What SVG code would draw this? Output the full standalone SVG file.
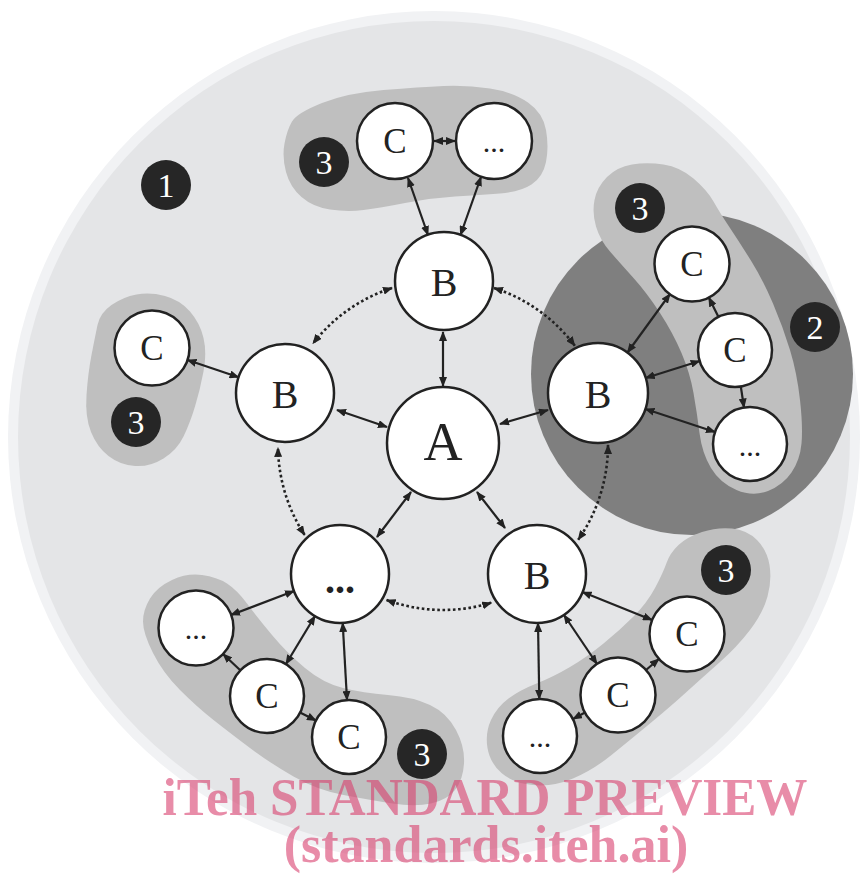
<svg xmlns="http://www.w3.org/2000/svg" width="868" height="879" viewBox="0 0 868 879">
<defs>
<style>
.n{fill:#fff;stroke:#222;stroke-width:2.5}
.t{font-family:"Liberation Serif",serif;fill:#222;text-anchor:middle}
.bd{fill:#262626}
.bt{font-family:"Liberation Serif",serif;fill:#fff;text-anchor:middle;font-size:34px}
.c{stroke:#222;stroke-width:2.2;fill:none;marker-end:url(#ah)}
.c2{marker-start:url(#ah)}
.d{stroke:#222;stroke-width:2.6;fill:none;stroke-dasharray:2.6 2.6;marker-start:url(#ad);marker-end:url(#ad)}
.blob{fill:#bfbfbf}
.wm{font-family:"Liberation Serif","Times New Roman",serif;font-weight:bold;fill:#d9406e;fill-opacity:0.6;text-anchor:middle;font-size:52px}
</style>
<marker id="ah" viewBox="0 0 10 8" refX="9" refY="4" markerWidth="10" markerHeight="8" markerUnits="userSpaceOnUse" orient="auto-start-reverse"><path d="M0,0 L10,4 L0,8 z" fill="#222"/></marker>
<marker id="ad" viewBox="0 0 10 8" refX="9" refY="4" markerWidth="10" markerHeight="8" markerUnits="userSpaceOnUse" orient="auto-start-reverse"><path d="M0,0 L10,4 L0,8 z" fill="#222"/></marker>
</defs>

<g id="background">
<circle cx="434" cy="437" r="426" fill="#f1f2f4"/>
<circle cx="434" cy="437" r="416" fill="#e4e5e7"/>
<circle id="zone2" cx="692" cy="374" r="161" fill="#7f7f7f"/>
</g>

<g id="groups3">
<path class="blob" d="M322,103 Q347,93 383.5,90 Q420,87 443.5,86 Q467,85 490,88.5 Q513,92 528,102.5 Q543,113 546,130 Q549,147 546,162 Q543,177 531.5,184.5 Q520,192 500,193.5 Q480,195 455,196.5 Q430,198 405,203 Q380,208 363.5,210 Q347,212 330,209.5 Q313,207 301.5,197 Q290,187 286,172 Q282,157 284.5,143.5 Q287,130 292,121.5 Q297,113 322,103 Z"/>
<path class="blob" d="M111.5,305 Q123,297 136.5,294.5 Q150,292 165,296 Q180,300 190,311.5 Q200,323 203.5,338 Q207,353 203.5,371.5 Q200,390 195,406.5 Q190,423 183.5,436.5 Q177,450 163.5,458.5 Q150,467 135,466 Q120,465 108.5,456 Q97,447 91,432 Q85,417 86.5,395 Q88,373 91.5,355 Q95,337 97.5,325 Q100,313 111.5,305 Z"/>
<path class="blob" d="M596,226.5 Q600,240 610,251.5 Q620,263 633.5,278 Q647,293 660,313 Q673,333 681.5,353 Q690,373 693.5,393 Q697,413 699.5,433 Q702,453 711,468 Q720,483 736.5,490 Q753,497 768,491 Q783,485 791.5,472.5 Q800,460 801.5,443.5 Q803,427 800,400 Q797,373 790,350 Q783,327 773,303.5 Q763,280 751.5,261.5 Q740,243 730,228 Q720,213 713.5,201.5 Q707,190 693.5,178.5 Q680,167 663.5,164.5 Q647,162 632,164.5 Q617,167 607,177 Q597,187 594.5,200 Q592,213 596,226.5 Z"/>
<path class="blob" d="M150,598.5 Q157,587 172,580 Q187,573 202,575 Q217,577 227,583.5 Q237,590 247,603.5 Q257,617 272,635 Q287,653 305,668 Q323,683 343,688 Q363,693 388,695 Q413,697 430,705 Q447,713 456,730 Q465,747 464,763.5 Q463,780 455,790 Q447,800 431,803.5 Q415,807 392.5,803.5 Q370,800 343.5,795 Q317,790 293.5,776.5 Q270,763 250,748 Q230,733 213.5,720 Q197,707 180,690 Q163,673 153,653 Q143,633 143,621.5 Q143,610 150,598.5 Z"/>
<path class="blob" d="M678.5,545 Q687,537 702,532 Q717,527 732,528.5 Q747,530 757,540 Q767,550 769.5,565 Q772,580 767.5,596.5 Q763,613 750,630 Q737,647 720,662 Q703,677 686.5,692 Q670,707 650,723.5 Q630,740 611.5,755 Q593,770 573,778.5 Q553,787 533,785 Q513,783 501.5,773 Q490,763 487.5,748 Q485,733 491,720 Q497,707 508.5,698.5 Q520,690 536.5,683.5 Q553,677 570,667 Q587,657 603.5,643.5 Q620,630 633.5,616.5 Q647,603 655,588 Q663,573 666.5,563 Q670,553 678.5,545 Z"/>
</g>

<g id="connectors">
<path class="d" d="M392,288 A165,165 0 0 0 313,343.4"/>
<path class="d" d="M494,288 A165,165 0 0 1 574.8,345.7"/>
<path class="d" d="M608,445 A165,165 0 0 1 578.2,539.7"/>
<path class="d" d="M491.2,602.8 A165,165 0 0 1 386.6,600"/>
<path class="d" d="M304.6,534.9 A165,165 0 0 1 278,447.9"/>

<line class="c c2" x1="443" y1="332" x2="443" y2="386"/>
<line class="c c2" x1="337" y1="410" x2="387" y2="427"/>
<line class="c c2" x1="500" y1="424" x2="548" y2="410"/>
<line class="c c2" x1="411" y1="492" x2="377" y2="537"/>
<line class="c c2" x1="477" y1="492" x2="505" y2="528"/>

<line class="c c2" x1="428" y1="235" x2="408" y2="178"/>
<line class="c c2" x1="460.5" y1="235" x2="481" y2="177"/>
<line class="c c2" x1="434" y1="141" x2="455" y2="141"/>

<line class="c c2" x1="238.6" y1="377.3" x2="187.5" y2="360"/>

<line class="c c2" x1="627.5" y1="352.5" x2="670" y2="294"/>
<line class="c c2" x1="645.7" y1="378" x2="699.7" y2="361"/>
<line class="c c2" x1="645.4" y1="409" x2="715" y2="432"/>
<line class="c" x1="718.5" y1="317" x2="708.8" y2="297.5"/>
<line class="c" x1="740.8" y1="386.5" x2="744" y2="407.5"/>

<line class="c c2" x1="294" y1="591" x2="231" y2="615"/>
<line class="c c2" x1="315" y1="616" x2="286" y2="664"/>
<line class="c c2" x1="342.7" y1="623" x2="347" y2="700"/>
<line class="c" x1="240" y1="670" x2="223" y2="654"/>
<line class="c" x1="300" y1="712.5" x2="316" y2="720.5"/>

<line class="c c2" x1="582.5" y1="592" x2="652" y2="620"/>
<line class="c c2" x1="564" y1="615" x2="597" y2="664"/>
<line class="c c2" x1="538" y1="623" x2="539.3" y2="699"/>
<line class="c" x1="646" y1="670" x2="659" y2="659"/>
<line class="c" x1="585" y1="712.5" x2="573" y2="719"/>
</g>

<g id="nodeA"><circle class="n" cx="443" cy="443" r="56"/><text class="t" x="443" y="460" font-size="54">A</text></g>
<g id="nodeB_top"><circle class="n" cx="444" cy="281" r="49"/><text class="t" x="444" y="296" font-size="40">B</text></g>
<g id="nodeB_left"><circle class="n" cx="285" cy="393" r="49"/><text class="t" x="285" y="408" font-size="40">B</text></g>
<g id="nodeB_right"><circle class="n" cx="598" cy="393" r="50"/><text class="t" x="598" y="408" font-size="40">B</text></g>
<g id="nodeB_bottomright"><circle class="n" cx="537" cy="574" r="49"/><text class="t" x="537" y="589" font-size="40">B</text></g>
<g id="nodeB_bottomleft"><circle class="n" cx="340" cy="574" r="49"/><text class="t" x="340" y="593" font-size="40" font-weight="bold">...</text></g>

<g id="nodeC_top1"><circle class="n" cx="395" cy="141" r="38"/><text class="t" x="395" y="153" font-size="35">C</text></g>
<g id="nodeC_top2"><circle class="n" cx="494" cy="141" r="38"/><text class="t" x="494" y="152" font-size="30">...</text></g>
<g id="nodeC_left"><circle class="n" cx="152" cy="348" r="37.5"/><text class="t" x="152" y="360" font-size="35">C</text></g>
<g id="nodeC_right1"><circle class="n" cx="692" cy="264" r="37.5"/><text class="t" x="692" y="276" font-size="35">C</text></g>
<g id="nodeC_right2"><circle class="n" cx="735" cy="350" r="37"/><text class="t" x="735" y="362" font-size="35">C</text></g>
<g id="nodeC_right3"><circle class="n" cx="750" cy="444" r="37"/><text class="t" x="750" y="456" font-size="30">...</text></g>
<g id="nodeC_bl1"><circle class="n" cx="196" cy="628" r="37.5"/><text class="t" x="196" y="639" font-size="30">...</text></g>
<g id="nodeC_bl2"><circle class="n" cx="267" cy="696" r="37"/><text class="t" x="267" y="708" font-size="35">C</text></g>
<g id="nodeC_bl3"><circle class="n" cx="349" cy="737" r="37"/><text class="t" x="349" y="749" font-size="35">C</text></g>
<g id="nodeC_br1"><circle class="n" cx="687" cy="634" r="37.5"/><text class="t" x="687" y="646" font-size="35">C</text></g>
<g id="nodeC_br2"><circle class="n" cx="618" cy="695" r="37.5"/><text class="t" x="618" y="707" font-size="35">C</text></g>
<g id="nodeC_br3"><circle class="n" cx="540" cy="736" r="37"/><text class="t" x="540" y="747" font-size="30">...</text></g>

<g id="badge1"><circle class="bd" cx="166" cy="185" r="25"/><text class="bt" x="166" y="197">1</text></g>
<g id="badge2"><circle class="bd" cx="815" cy="327" r="25"/><text class="bt" x="815" y="339">2</text></g>
<g id="badge3_top"><circle class="bd" cx="324" cy="162" r="25"/><text class="bt" x="324" y="174">3</text></g>
<g id="badge3_left"><circle class="bd" cx="136" cy="422" r="25"/><text class="bt" x="136" y="434">3</text></g>
<g id="badge3_right"><circle class="bd" cx="640" cy="208" r="25"/><text class="bt" x="640" y="220">3</text></g>
<g id="badge3_bl"><circle class="bd" cx="422" cy="754" r="25"/><text class="bt" x="422" y="766">3</text></g>
<g id="badge3_br"><circle class="bd" cx="726" cy="570" r="25"/><text class="bt" x="726" y="582">3</text></g>

<g id="watermark">
<text class="wm" x="485" y="815" textLength="645" lengthAdjust="spacingAndGlyphs">iTeh STANDARD PREVIEW</text>
<text class="wm" x="486" y="862">(standards.iteh.ai)</text>
</g>
</svg>
